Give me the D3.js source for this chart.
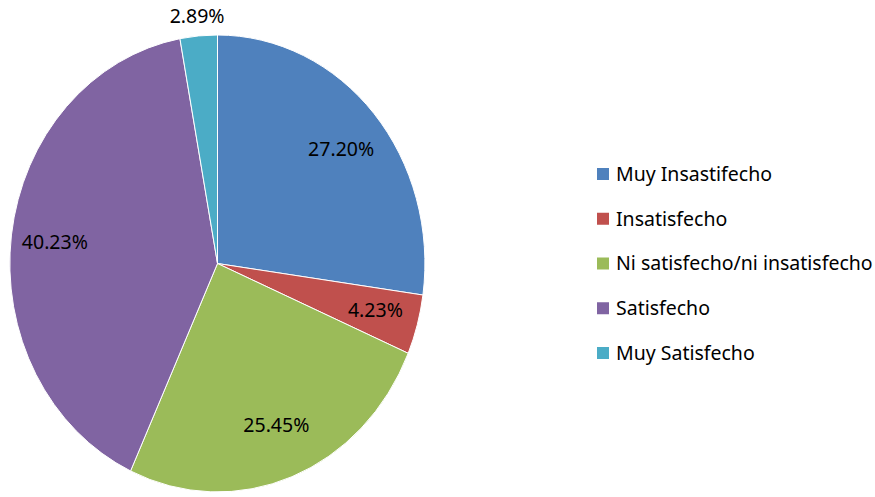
<!DOCTYPE html>
<html>
<head>
<meta charset="utf-8">
<script src="https://cdn.jsdelivr.net/npm/d3@7"></script>
<style>
    body { margin: 0; background: #fff; }
    svg { display: block; }
    text { font-family: "Noto Sans", "Open Sans", sans-serif; fill: #000; }
</style>
</head>
<body>
<div id="chart"></div>
<script>
var categories = ["Muy Insastifecho", "Insatisfecho", "Ni satisfecho/ni insatisfecho", "Satisfecho", "Muy Satisfecho"];
var values = [27.20, 4.23, 25.45, 40.23, 2.89];
var labels = ["27.20%", "4.23%", "25.45%", "40.23%", "2.89%"];
var colors = ["#4F81BD", "#C0504D", "#9BBB59", "#8064A2", "#4BACC6"];

var width = 875,
    height = 497;

// the pie in the picture is a little taller than wide
var cx = 217.5,
    cy = 263.5,
    rx = 207.5,
    ry = 228.5;

var data = categories.map(function(c, i) {
    return { name: c, value: values[i], label: labels[i], color: colors[i] };
});

var svg = d3.select("#chart")
    .append("svg")
    .attr("width", width)
    .attr("height", height);

var pie = d3.pie()
    .sort(null)
    .value(function(d) { return d.value; });

var arcs = pie(data);

var arc = d3.arc()
    .innerRadius(0)
    .outerRadius(1);

var g = svg.append("g")
    .attr("transform", "translate(" + cx + "," + cy + ") scale(" + rx + "," + ry + ")");

g.selectAll("path")
    .data(arcs)
    .enter().append("path")
    .attr("d", arc)
    .style("fill", function(d) { return d.data.color; })
    .style("stroke", "#fff")
    .style("stroke-width", 1)
    .attr("vector-effect", "non-scaling-stroke");

// labels: inside at ~0.78 of radius, small slice goes outside
svg.selectAll("text.lbl")
    .data(arcs)
    .enter().append("text")
    .attr("class", "lbl")
    .attr("text-anchor", "middle")
    .attr("dy", "0.35em")
    .style("font-size", "19.5px")
    .attr("x", function(d) {
        var a = (d.startAngle + d.endAngle) / 2;
        var k = d.data.value < 3 ? 1.085 : 0.79;
        return cx + Math.sin(a) * rx * k;
    })
    .attr("y", function(d) {
        var a = (d.startAngle + d.endAngle) / 2;
        var k = d.data.value < 3 ? 1.085 : 0.76;
        return cy - Math.cos(a) * ry * k;
    })
    .text(function(d) { return d.data.label; });

// legend
var legendY = d3.scalePoint()
    .domain(categories)
    .range([174, 353]);

var legend = svg.selectAll("g.legend")
    .data(data)
    .enter().append("g")
    .attr("class", "legend")
    .attr("transform", function(d) { return "translate(597," + legendY(d.name) + ")"; });

legend.append("rect")
    .attr("x", 0)
    .attr("y", -6)
    .attr("width", 12)
    .attr("height", 12)
    .style("fill", function(d) { return d.color; });

legend.append("text")
    .attr("x", 19)
    .attr("dy", "0.35em")
    .style("font-size", "19.5px")
    .text(function(d) { return d.name; });
</script>
</body>
</html>
